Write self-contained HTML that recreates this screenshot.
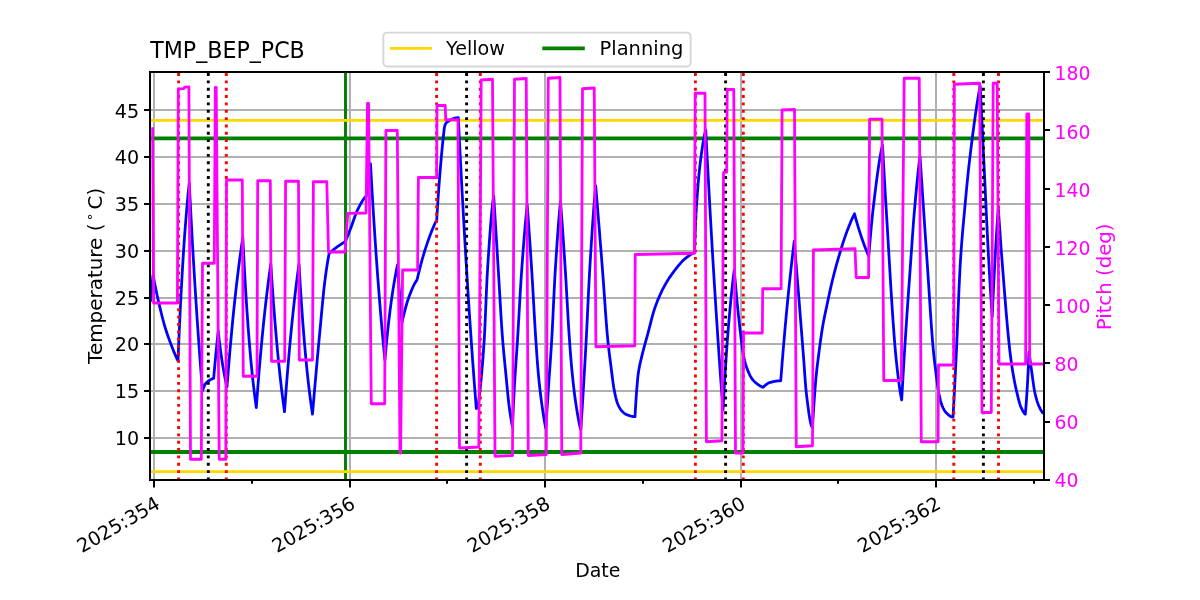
<!DOCTYPE html>
<html lang="en"><head><meta charset="utf-8"><title>TMP_BEP_PCB</title>
<style>html,body{margin:0;padding:0;background:#fff;overflow:hidden}body{width:1200px;height:600px}</style>
</head><body>
<svg width="1200" height="600" viewBox="0 0 1200 600" style="display:block;font-family:'DejaVu Sans','Liberation Sans',sans-serif">
<rect width="1200" height="600" fill="#fff"/>
<defs><clipPath id="c"><rect x="150.0" y="72.0" width="894.0" height="408.0"/></clipPath></defs>
<g stroke="#b0b0b0" stroke-width="2" fill="none">
<line x1="154.00" y1="72.0" x2="154.00" y2="480.0"/>
<line x1="350.00" y1="72.0" x2="350.00" y2="480.0"/>
<line x1="545.00" y1="72.0" x2="545.00" y2="480.0"/>
<line x1="741.00" y1="72.0" x2="741.00" y2="480.0"/>
<line x1="936.00" y1="72.0" x2="936.00" y2="480.0"/>
<line x1="150.0" y1="438.00" x2="1044.0" y2="438.00"/>
<line x1="150.0" y1="391.00" x2="1044.0" y2="391.00"/>
<line x1="150.0" y1="344.00" x2="1044.0" y2="344.00"/>
<line x1="150.0" y1="298.00" x2="1044.0" y2="298.00"/>
<line x1="150.0" y1="251.00" x2="1044.0" y2="251.00"/>
<line x1="150.0" y1="204.00" x2="1044.0" y2="204.00"/>
<line x1="150.0" y1="157.00" x2="1044.0" y2="157.00"/>
<line x1="150.0" y1="110.00" x2="1044.0" y2="110.00"/>
</g>
<g clip-path="url(#c)" fill="none" stroke-linejoin="round">
<line x1="345.5" x2="345.5" y1="72.0" y2="480.0" stroke="#008000" stroke-width="2.95"/>
<line x1="150.0" x2="1044.0" y1="120.4" y2="120.4" stroke="#ffd700" stroke-width="2.78"/>
<line x1="150.0" x2="1044.0" y1="471.7" y2="471.7" stroke="#ffd700" stroke-width="2.78"/>
<line x1="150.0" x2="1044.0" y1="138.3" y2="138.3" stroke="#008000" stroke-width="3.8"/>
<line x1="150.0" x2="1044.0" y1="452" y2="452" stroke="#008000" stroke-width="3.8"/>
<path d="M150.30,302.00 L150.57,299.30 L150.84,296.60 L151.11,293.90 L151.38,291.20 L151.65,288.50 L151.92,285.80 L152.19,283.10 L152.46,280.40 L152.73,277.70 L153.00,275.00 L153.50,277.58 L154.00,280.13 L154.50,282.65 L155.00,285.13 L155.50,287.57 L156.00,289.98 L156.50,292.35 L157.00,294.68 L157.50,296.97 L158.00,299.21 L158.50,301.42 L159.00,303.58 L159.50,305.72 L160.00,307.84 L160.50,309.93 L161.00,311.99 L161.50,314.03 L162.00,316.02 L162.50,317.98 L163.00,319.89 L163.50,321.75 L164.00,323.56 L164.50,325.31 L165.00,327.00 L165.50,328.64 L166.00,330.23 L166.50,331.78 L167.00,333.29 L167.50,334.76 L168.00,336.20 L168.50,337.62 L169.00,339.00 L169.50,340.37 L170.00,341.71 L170.50,343.04 L171.00,344.35 L171.50,345.65 L172.00,346.94 L172.50,348.21 L173.00,349.46 L173.50,350.70 L174.00,351.92 L174.50,353.12 L175.00,354.31 L175.50,355.47 L176.00,356.62 L176.50,357.75 L177.00,358.85 L177.50,359.94 L178.00,361.00 L179.12,334.20 L180.25,309.96 L181.38,288.02 L182.50,268.16 L183.62,250.20 L184.75,233.95 L185.88,219.24 L187.00,205.94 L188.12,193.89 L189.25,183.00 L190.57,208.76 L191.90,233.26 L193.22,256.56 L194.55,278.73 L195.88,299.82 L197.20,319.88 L198.53,338.96 L199.85,357.11 L201.18,374.38 L202.50,390.80 L203.01,389.33 L203.52,387.93 L204.03,386.63 L204.54,385.46 L205.05,384.44 L205.55,383.62 L206.06,383.00 L206.57,382.46 L207.08,381.99 L207.59,381.56 L208.10,381.18 L208.61,380.84 L209.12,380.52 L209.63,380.22 L210.14,379.92 L210.65,379.64 L211.15,379.37 L211.66,379.11 L212.17,378.88 L212.68,378.66 L213.19,378.47 L213.70,378.30 L214.16,372.93 L214.61,367.73 L215.06,362.68 L215.52,357.77 L215.97,353.01 L216.43,348.40 L216.88,343.91 L217.34,339.57 L217.79,335.35 L218.25,331.25 L219.12,339.03 L220.00,346.22 L220.88,352.85 L221.75,358.97 L222.62,364.63 L223.50,369.84 L224.38,374.66 L225.25,379.11 L226.12,383.21 L227.00,387.00 L228.58,366.92 L230.16,348.20 L231.74,330.75 L233.32,314.47 L234.90,299.30 L236.48,285.15 L238.06,271.96 L239.64,259.66 L241.22,248.19 L242.80,237.50 L244.15,264.04 L245.50,287.82 L246.85,309.12 L248.20,328.21 L249.55,345.30 L250.90,360.62 L252.25,374.34 L253.60,386.63 L254.95,397.64 L256.30,407.50 L257.75,388.23 L259.20,370.26 L260.65,353.51 L262.10,337.89 L263.55,323.32 L265.00,309.74 L266.45,297.08 L267.90,285.27 L269.35,274.26 L270.80,264.00 L272.17,284.62 L273.54,303.66 L274.91,321.23 L276.28,337.45 L277.65,352.43 L279.02,366.25 L280.39,379.01 L281.76,390.79 L283.13,401.66 L284.50,411.70 L285.95,391.86 L287.40,373.37 L288.85,356.13 L290.30,340.05 L291.75,325.06 L293.20,311.08 L294.65,298.05 L296.10,285.89 L297.55,274.56 L299.00,264.00 L300.35,286.61 L301.70,307.07 L303.05,325.58 L304.40,342.34 L305.75,357.49 L307.10,371.21 L308.45,383.62 L309.80,394.85 L311.15,405.01 L312.50,414.20 L313.01,408.17 L313.51,402.20 L314.02,396.28 L314.52,390.41 L315.03,384.59 L315.54,378.82 L316.04,373.10 L316.55,367.42 L317.05,361.80 L317.56,356.23 L318.07,350.70 L318.57,345.22 L319.08,339.78 L319.58,334.39 L320.09,329.04 L320.60,323.64 L321.10,318.18 L321.61,312.71 L322.12,307.29 L322.62,301.98 L323.13,296.82 L323.63,291.88 L324.14,287.20 L324.65,282.84 L325.15,278.84 L325.66,275.04 L326.16,271.38 L326.67,267.89 L327.18,264.57 L327.68,261.44 L328.19,258.51 L328.69,255.79 L329.20,253.30 L329.70,252.85 L330.21,252.41 L330.71,251.98 L331.21,251.55 L331.72,251.12 L332.22,250.70 L332.72,250.29 L333.23,249.88 L333.73,249.47 L334.23,249.08 L334.73,248.68 L335.24,248.30 L335.74,247.92 L336.24,247.55 L336.75,247.18 L337.25,246.82 L337.75,246.47 L338.26,246.12 L338.76,245.77 L339.26,245.43 L339.77,245.09 L340.27,244.75 L340.77,244.43 L341.27,244.10 L341.78,243.78 L342.28,243.47 L342.78,243.16 L343.29,242.86 L343.79,242.56 L344.29,242.27 L344.80,241.98 L345.30,241.70 L345.81,240.47 L346.32,239.23 L346.83,237.98 L347.34,236.72 L347.85,235.46 L348.37,234.18 L348.88,232.90 L349.39,231.61 L349.90,230.31 L350.41,229.00 L350.92,227.69 L351.43,226.32 L351.94,224.91 L352.45,223.45 L352.96,221.98 L353.48,220.49 L353.99,219.01 L354.50,217.54 L355.01,216.11 L355.52,214.72 L356.03,213.38 L356.54,212.12 L357.05,210.95 L357.56,209.87 L358.07,208.84 L358.59,207.83 L359.10,206.84 L359.61,205.87 L360.12,204.92 L360.63,204.00 L361.14,203.10 L361.65,202.23 L362.16,201.39 L362.67,200.58 L363.18,199.81 L363.70,199.07 L364.21,198.37 L364.72,197.72 L365.23,197.10 L365.74,196.53 L366.25,196.00 L366.68,192.48 L367.10,189.02 L367.52,185.64 L367.95,182.32 L368.38,179.07 L368.80,175.88 L369.23,172.76 L369.65,169.69 L370.07,166.69 L370.50,163.75 L371.94,189.05 L373.38,212.89 L374.82,235.33 L376.26,256.46 L377.70,276.37 L379.14,295.12 L380.58,312.77 L382.02,329.40 L383.46,345.05 L384.90,359.80 L386.16,346.05 L387.42,333.48 L388.68,322.00 L389.94,311.50 L391.20,301.91 L392.46,293.14 L393.72,285.13 L394.98,277.81 L396.24,271.12 L397.50,265.00 L397.95,271.56 L398.40,277.92 L398.85,284.09 L399.30,290.09 L399.75,295.90 L400.20,301.55 L400.65,307.02 L401.10,312.34 L401.55,317.49 L402.00,322.50 L402.50,320.31 L403.00,318.16 L403.50,316.04 L404.00,313.98 L404.50,311.96 L405.00,310.00 L405.50,308.10 L406.00,306.26 L406.50,304.50 L407.00,302.80 L407.50,301.18 L408.00,299.64 L408.50,298.19 L409.00,296.82 L409.50,295.48 L410.00,294.17 L410.50,292.88 L411.00,291.62 L411.50,290.40 L412.00,289.21 L412.50,288.07 L413.00,286.96 L413.50,285.90 L414.00,284.89 L414.50,283.93 L415.00,283.02 L415.50,282.17 L416.00,281.39 L416.50,280.66 L417.00,280.00 L417.51,277.87 L418.01,275.75 L418.52,273.66 L419.03,271.60 L419.53,269.56 L420.04,267.56 L420.54,265.58 L421.05,263.65 L421.56,261.75 L422.06,259.88 L422.57,258.07 L423.08,256.29 L423.58,254.56 L424.09,252.89 L424.60,251.26 L425.10,249.68 L425.61,248.14 L426.12,246.61 L426.62,245.09 L427.13,243.60 L427.63,242.12 L428.14,240.66 L428.65,239.23 L429.15,237.81 L429.66,236.42 L430.17,235.06 L430.67,233.72 L431.18,232.40 L431.69,231.11 L432.19,229.86 L432.70,228.63 L433.21,227.43 L433.71,226.26 L434.22,225.13 L434.72,224.03 L435.23,222.97 L435.74,221.94 L436.24,220.95 L436.75,220.00 L437.25,211.40 L437.76,203.19 L438.26,195.57 L438.76,188.52 L439.27,181.79 L439.77,175.36 L440.27,169.21 L440.78,163.32 L441.28,157.67 L441.78,152.21 L442.29,146.94 L442.79,141.87 L443.29,137.01 L443.80,132.39 L444.30,128.00 L444.80,125.82 L445.30,124.30 L445.80,123.40 L446.30,122.77 L446.80,122.38 L447.30,122.01 L447.80,121.66 L448.30,121.32 L448.80,120.99 L449.30,120.67 L449.80,120.37 L450.30,120.09 L450.80,119.81 L451.30,119.55 L451.80,119.31 L452.30,119.08 L452.80,118.87 L453.30,118.67 L453.80,118.49 L454.30,118.33 L454.80,118.19 L455.30,118.06 L455.80,117.95 L456.30,117.86 L456.80,117.79 L457.30,117.74 L457.80,117.71 L458.30,117.70 L460.10,153.74 L461.90,188.03 L463.70,220.65 L465.50,251.67 L467.30,281.18 L469.10,309.25 L470.90,335.96 L472.70,361.36 L474.50,385.52 L476.30,408.50 L476.81,408.39 L477.32,408.12 L477.84,407.28 L478.35,404.60 L478.86,400.59 L479.37,395.86 L479.88,391.05 L480.39,386.43 L480.91,381.49 L481.42,376.18 L481.93,370.47 L482.44,364.36 L482.95,357.83 L483.46,350.85 L483.98,343.40 L484.49,335.15 L485.00,324.89 L485.51,313.21 L486.02,300.97 L486.54,288.98 L487.05,278.08 L487.56,269.07 L488.07,261.11 L488.58,253.32 L489.09,245.76 L489.61,238.48 L490.12,231.52 L490.63,224.93 L491.14,218.75 L491.65,213.05 L492.16,207.85 L492.68,203.21 L493.19,199.18 L493.70,195.80 L494.21,203.98 L494.72,212.17 L495.22,220.36 L495.73,228.55 L496.24,236.74 L496.75,244.94 L497.26,253.15 L497.76,261.35 L498.27,269.56 L498.78,277.94 L499.29,286.61 L499.80,295.40 L500.31,304.16 L500.81,312.74 L501.32,321.00 L501.83,328.76 L502.34,335.89 L502.85,342.29 L503.35,348.19 L503.86,353.70 L504.37,358.94 L504.88,364.04 L505.39,369.11 L505.89,374.27 L506.40,379.60 L506.91,384.99 L507.42,390.33 L507.93,395.48 L508.44,400.32 L508.94,404.70 L509.45,408.56 L509.96,412.19 L510.47,415.62 L510.98,418.82 L511.48,421.75 L511.99,424.39 L512.50,426.70 L513.01,414.85 L513.51,403.61 L514.02,393.34 L514.53,384.26 L515.03,376.07 L515.54,368.49 L516.05,361.24 L516.56,354.07 L517.06,346.71 L517.57,338.90 L518.08,330.57 L518.58,321.88 L519.09,312.99 L519.60,304.06 L520.10,295.24 L520.61,286.70 L521.12,278.59 L521.62,271.07 L522.13,264.05 L522.64,257.18 L523.14,250.49 L523.65,243.99 L524.16,237.68 L524.67,231.59 L525.17,225.74 L525.68,220.14 L526.19,214.80 L526.69,209.75 L527.20,205.00 L527.70,211.66 L528.21,218.49 L528.71,225.48 L529.21,232.62 L529.71,239.90 L530.22,247.32 L530.72,254.88 L531.22,262.57 L531.72,270.38 L532.23,278.54 L532.73,287.13 L533.23,295.99 L533.74,304.96 L534.24,313.87 L534.74,322.57 L535.24,330.90 L535.75,338.69 L536.25,346.18 L536.75,353.50 L537.25,360.49 L537.76,367.00 L538.26,372.86 L538.76,378.14 L539.26,383.10 L539.77,387.75 L540.27,392.13 L540.77,396.25 L541.28,400.16 L541.78,403.87 L542.28,407.44 L542.78,410.90 L543.29,414.22 L543.79,417.40 L544.29,420.41 L544.79,423.24 L545.30,425.87 L545.80,428.30 L546.31,420.43 L546.81,412.60 L547.32,404.83 L547.83,397.13 L548.33,389.48 L548.84,382.06 L549.35,374.88 L549.86,367.76 L550.36,360.57 L550.87,353.13 L551.38,345.29 L551.88,336.86 L552.39,327.43 L552.90,317.23 L553.40,306.64 L553.91,296.04 L554.42,285.81 L554.92,276.32 L555.43,267.93 L555.94,260.02 L556.44,252.33 L556.95,244.87 L557.46,237.68 L557.97,230.78 L558.47,224.20 L558.98,217.98 L559.49,212.13 L559.99,206.70 L560.50,201.70 L561.01,208.26 L561.51,214.99 L562.02,221.89 L562.53,228.95 L563.04,236.16 L563.54,243.52 L564.05,251.02 L564.56,258.65 L565.07,266.41 L565.58,274.36 L566.08,282.86 L566.59,291.76 L567.10,300.84 L567.61,309.92 L568.11,318.76 L568.62,327.18 L569.13,334.95 L569.63,342.14 L570.14,349.05 L570.65,355.62 L571.16,361.80 L571.66,367.52 L572.17,372.77 L572.68,377.78 L573.19,382.55 L573.69,387.10 L574.20,391.40 L574.71,395.46 L575.22,399.26 L575.72,402.80 L576.23,406.14 L576.74,409.38 L577.25,412.51 L577.75,415.51 L578.26,418.38 L578.77,421.08 L579.28,423.61 L579.78,425.95 L580.29,428.09 L580.80,430.00 L581.31,422.01 L581.83,413.91 L582.34,405.68 L582.86,397.33 L583.37,388.86 L583.88,380.31 L584.40,371.69 L584.91,362.94 L585.42,353.99 L585.94,344.80 L586.45,335.24 L586.97,324.98 L587.48,314.23 L587.99,303.33 L588.51,292.59 L589.02,282.31 L589.53,272.83 L590.05,264.20 L590.56,255.78 L591.08,247.55 L591.59,239.54 L592.10,231.75 L592.62,224.22 L593.13,216.98 L593.64,210.04 L594.16,203.42 L594.67,197.16 L595.19,191.28 L595.70,185.80 L596.20,191.82 L596.71,197.89 L597.21,203.98 L597.72,210.12 L598.22,216.29 L598.72,222.49 L599.23,228.73 L599.73,235.00 L600.23,241.30 L600.74,247.63 L601.24,253.99 L601.75,260.38 L602.25,266.80 L602.75,273.30 L603.26,280.08 L603.76,287.09 L604.27,294.25 L604.77,301.44 L605.27,308.58 L605.78,315.56 L606.28,322.28 L606.78,328.65 L607.29,334.56 L607.79,339.92 L608.30,344.75 L608.80,349.19 L609.30,353.35 L609.81,357.33 L610.31,361.22 L610.82,365.12 L611.32,369.14 L611.82,373.22 L612.33,377.26 L612.83,381.14 L613.33,384.75 L613.84,387.98 L614.34,390.73 L614.85,393.25 L615.35,395.60 L615.85,397.77 L616.36,399.74 L616.86,401.47 L617.37,402.95 L617.87,404.20 L618.37,405.36 L618.88,406.42 L619.38,407.40 L619.88,408.28 L620.39,409.09 L620.89,409.81 L621.40,410.45 L621.90,411.02 L622.40,411.55 L622.91,412.05 L623.41,412.52 L623.92,412.96 L624.42,413.37 L624.92,413.74 L625.43,414.06 L625.93,414.35 L626.43,414.59 L626.94,414.79 L627.44,414.98 L627.95,415.17 L628.45,415.35 L628.95,415.52 L629.46,415.69 L629.96,415.85 L630.47,415.99 L630.97,416.13 L631.47,416.26 L631.98,416.37 L632.48,416.46 L632.98,416.55 L633.49,416.61 L633.99,416.66 L634.50,416.69 L635.00,416.70 L635.50,407.84 L636.00,399.76 L636.50,392.59 L637.00,386.30 L637.50,380.54 L638.00,375.65 L638.50,371.95 L639.00,368.90 L639.50,366.24 L640.00,363.87 L640.50,361.69 L641.00,359.62 L641.50,357.55 L642.00,355.43 L642.50,353.38 L643.00,351.40 L643.50,349.49 L644.00,347.62 L644.50,345.79 L645.00,343.99 L645.50,342.21 L646.00,340.43 L646.50,338.64 L647.00,336.83 L647.50,335.00 L648.00,333.12 L648.50,331.21 L649.00,329.26 L649.50,327.29 L650.00,325.32 L650.50,323.35 L651.00,321.39 L651.50,319.46 L652.00,317.56 L652.50,315.71 L653.00,313.91 L653.50,312.18 L654.00,310.53 L654.50,308.96 L655.00,307.50 L655.50,306.11 L656.00,304.75 L656.50,303.42 L657.00,302.13 L657.50,300.86 L658.00,299.63 L658.50,298.42 L659.00,297.25 L659.50,296.10 L660.00,294.97 L660.50,293.88 L661.00,292.80 L661.50,291.75 L662.00,290.73 L662.50,289.72 L663.00,288.74 L663.50,287.78 L664.00,286.83 L664.50,285.91 L665.00,285.00 L665.50,284.11 L666.00,283.24 L666.50,282.38 L667.00,281.55 L667.50,280.73 L668.00,279.92 L668.50,279.14 L669.00,278.36 L669.50,277.60 L670.00,276.86 L670.50,276.12 L671.00,275.40 L671.50,274.69 L672.00,274.00 L672.50,273.31 L673.00,272.63 L673.50,271.96 L674.00,271.30 L674.50,270.65 L675.00,270.00 L675.50,269.36 L676.00,268.72 L676.50,268.08 L677.00,267.45 L677.50,266.82 L678.00,266.20 L678.50,265.59 L679.00,264.98 L679.50,264.39 L680.00,263.80 L680.50,263.23 L681.00,262.67 L681.50,262.12 L682.00,261.59 L682.50,261.07 L683.00,260.57 L683.50,260.09 L684.00,259.62 L684.50,259.17 L685.00,258.75 L685.50,258.34 L686.00,257.93 L686.50,257.54 L687.00,257.15 L687.50,256.76 L688.00,256.39 L688.50,256.02 L689.00,255.67 L689.50,255.32 L690.00,254.99 L690.50,254.66 L691.00,254.35 L691.50,254.04 L692.00,253.75 L692.50,253.48 L693.00,253.21 L693.50,252.96 L694.00,252.72 L694.50,252.50 L695.01,238.33 L695.52,225.02 L696.03,213.81 L696.55,205.35 L697.06,197.82 L697.57,190.91 L698.08,184.56 L698.59,178.73 L699.10,173.37 L699.61,168.45 L700.12,163.90 L700.64,159.68 L701.15,155.76 L701.66,152.04 L702.17,148.46 L702.68,145.06 L703.19,141.86 L703.70,138.89 L704.22,136.19 L704.73,133.79 L705.24,131.71 L705.75,130.00 L707.48,163.30 L709.20,195.30 L710.92,226.04 L712.65,255.58 L714.38,283.95 L716.10,311.22 L717.83,337.41 L719.55,362.58 L721.27,386.77 L723.00,410.00 L724.12,389.69 L725.25,371.14 L726.38,354.18 L727.50,338.68 L728.62,324.51 L729.75,311.56 L730.88,299.73 L732.00,288.92 L733.12,279.03 L734.25,270.00 L735.09,279.92 L735.92,289.35 L736.75,298.32 L737.59,306.86 L738.42,314.97 L739.26,322.70 L740.10,330.04 L740.93,337.03 L741.76,343.68 L742.60,350.00 L743.11,353.03 L743.62,355.84 L744.13,358.37 L744.64,360.58 L745.15,362.55 L745.66,364.35 L746.17,365.98 L746.68,367.45 L747.19,368.82 L747.70,370.14 L748.21,371.42 L748.72,372.64 L749.23,373.79 L749.74,374.88 L750.25,375.89 L750.76,376.82 L751.27,377.66 L751.78,378.41 L752.29,379.10 L752.80,379.74 L753.31,380.34 L753.82,380.90 L754.33,381.43 L754.84,381.92 L755.35,382.39 L755.86,382.83 L756.37,383.24 L756.88,383.64 L757.39,384.02 L757.90,384.40 L758.41,384.77 L758.92,385.12 L759.43,385.46 L759.94,385.78 L760.45,386.09 L760.96,386.37 L761.47,386.64 L761.98,386.88 L762.49,387.10 L763.00,387.30 L763.51,386.85 L764.01,386.40 L764.52,385.96 L765.03,385.53 L765.54,385.11 L766.04,384.71 L766.55,384.32 L767.06,383.96 L767.56,383.63 L768.07,383.33 L768.58,383.06 L769.09,382.82 L769.59,382.63 L770.10,382.47 L770.61,382.34 L771.11,382.20 L771.62,382.07 L772.13,381.94 L772.64,381.82 L773.14,381.71 L773.65,381.59 L774.16,381.49 L774.66,381.39 L775.17,381.29 L775.68,381.20 L776.19,381.12 L776.69,381.05 L777.20,380.98 L777.71,380.92 L778.21,380.87 L778.72,380.83 L779.23,380.79 L779.74,380.77 L780.24,380.76 L780.75,380.75 L782.10,363.46 L783.45,347.01 L784.80,331.37 L786.15,316.48 L787.50,302.33 L788.85,288.86 L790.20,276.05 L791.55,263.87 L792.90,252.28 L794.25,241.25 L794.76,247.40 L795.26,253.57 L795.77,259.78 L796.28,266.00 L796.78,272.25 L797.29,278.52 L797.80,284.81 L798.31,291.13 L798.81,297.46 L799.32,303.81 L799.83,310.18 L800.33,316.57 L800.84,322.97 L801.35,329.39 L801.85,335.83 L802.36,342.27 L802.87,348.73 L803.38,355.21 L803.88,361.72 L804.39,368.80 L804.90,376.16 L805.40,383.19 L805.91,389.26 L806.42,393.88 L806.92,398.06 L807.43,402.16 L807.94,406.14 L808.44,409.93 L808.95,413.48 L809.46,416.75 L809.97,419.69 L810.47,422.24 L810.98,424.34 L811.49,425.96 L811.99,427.03 L812.50,427.50 L813.00,418.90 L813.50,410.79 L814.00,403.18 L814.50,396.06 L815.00,389.43 L815.50,383.30 L816.00,377.64 L816.50,372.51 L817.00,368.02 L817.50,363.94 L818.00,360.00 L818.50,356.04 L819.00,352.12 L819.50,348.26 L820.00,344.47 L820.50,340.79 L821.00,337.23 L821.50,333.82 L822.00,330.56 L822.50,327.50 L823.00,324.61 L823.50,321.86 L824.00,319.24 L824.50,316.71 L825.00,314.26 L825.50,311.87 L826.00,309.51 L826.50,307.18 L827.00,304.85 L827.50,302.50 L828.00,300.13 L828.50,297.78 L829.00,295.44 L829.50,293.12 L830.00,290.83 L830.50,288.58 L831.00,286.36 L831.50,284.19 L832.00,282.06 L832.50,280.00 L833.00,277.98 L833.50,275.99 L834.00,274.03 L834.50,272.09 L835.00,270.18 L835.50,268.30 L836.00,266.45 L836.50,264.62 L837.00,262.81 L837.50,261.04 L838.00,259.28 L838.50,257.55 L839.00,255.84 L839.50,254.16 L840.00,252.50 L840.50,250.86 L841.00,249.23 L841.50,247.62 L842.00,246.03 L842.50,244.45 L843.00,242.90 L843.50,241.36 L844.00,239.85 L844.50,238.37 L845.00,236.90 L845.50,235.47 L846.00,234.06 L846.50,232.68 L847.00,231.32 L847.50,230.00 L848.00,228.70 L848.50,227.42 L849.00,226.16 L849.50,224.93 L850.00,223.71 L850.50,222.51 L851.00,221.33 L851.50,220.18 L852.00,219.05 L852.50,217.94 L853.00,216.85 L853.50,215.79 L854.00,214.76 L854.50,213.75 L855.92,219.02 L857.35,224.03 L858.77,228.80 L860.20,233.33 L861.62,237.64 L863.05,241.75 L864.48,245.65 L865.90,249.36 L867.33,252.89 L868.75,256.25 L869.26,250.10 L869.77,244.02 L870.28,238.06 L870.79,232.26 L871.30,226.67 L871.81,221.32 L872.31,216.27 L872.82,211.55 L873.33,207.13 L873.84,202.78 L874.35,198.49 L874.86,194.27 L875.37,190.13 L875.88,186.07 L876.39,182.10 L876.90,178.24 L877.41,174.49 L877.92,170.86 L878.43,167.36 L878.94,163.99 L879.44,160.77 L879.95,157.71 L880.46,154.81 L880.97,152.08 L881.48,149.53 L881.99,147.16 L882.50,145.00 L883.01,154.06 L883.51,163.07 L884.02,172.01 L884.52,180.84 L885.03,189.56 L885.53,198.12 L886.04,206.52 L886.54,214.77 L887.05,223.13 L887.55,231.59 L888.06,240.11 L888.56,248.67 L889.07,257.23 L889.57,265.75 L890.08,274.22 L890.58,282.58 L891.09,290.82 L891.59,298.90 L892.10,306.78 L892.61,314.44 L893.11,321.84 L893.62,328.94 L894.12,335.72 L894.63,342.15 L895.13,348.18 L895.64,353.80 L896.14,358.96 L896.65,363.74 L897.15,368.34 L897.66,372.76 L898.16,376.99 L898.67,381.01 L899.17,384.80 L899.68,388.36 L900.18,391.68 L900.69,394.73 L901.19,397.51 L901.70,400.00 L902.21,390.84 L902.72,381.80 L903.23,372.94 L903.73,364.36 L904.24,356.11 L904.75,348.06 L905.26,340.15 L905.77,332.38 L906.28,324.74 L906.78,317.20 L907.29,309.76 L907.80,302.41 L908.31,295.12 L908.82,287.89 L909.33,280.71 L909.83,273.56 L910.34,266.43 L910.85,259.30 L911.36,252.10 L911.87,244.86 L912.38,237.66 L912.88,230.59 L913.39,223.74 L913.90,217.20 L914.41,211.06 L914.92,205.26 L915.42,199.59 L915.93,194.05 L916.44,188.66 L916.95,183.43 L917.46,178.38 L917.97,173.51 L918.48,168.86 L918.98,164.42 L919.49,160.21 L920.00,156.25 L920.50,163.76 L921.00,171.26 L921.50,178.75 L922.00,186.21 L922.50,193.66 L923.00,201.10 L923.50,208.52 L924.00,215.93 L924.50,223.33 L925.00,230.73 L925.50,238.10 L926.00,245.44 L926.50,252.75 L927.00,260.00 L927.50,267.34 L928.00,274.87 L928.50,282.53 L929.00,290.25 L929.50,297.97 L930.00,305.62 L930.50,313.14 L931.00,320.47 L931.50,327.54 L932.00,334.30 L932.50,340.67 L933.00,346.59 L933.50,352.00 L934.00,356.88 L934.50,361.33 L935.00,365.46 L935.50,369.39 L936.00,373.24 L936.50,377.11 L937.00,380.93 L937.50,384.63 L938.00,388.10 L938.50,391.26 L939.00,394.03 L939.50,396.37 L940.00,398.55 L940.50,400.56 L941.00,402.39 L941.50,404.04 L942.00,405.48 L942.50,406.70 L943.00,407.77 L943.50,408.76 L944.00,409.68 L944.50,410.52 L945.00,411.29 L945.50,411.97 L946.00,412.58 L946.50,413.11 L947.00,413.57 L947.50,414.03 L948.00,414.47 L948.50,414.90 L949.00,415.30 L949.50,415.68 L950.00,416.03 L950.50,416.35 L951.00,416.62 L951.50,416.85 L952.00,417.02 L952.50,417.14 L953.00,417.20 L953.50,408.13 L954.01,398.86 L954.51,389.37 L955.01,379.66 L955.52,369.72 L956.02,359.55 L956.53,348.70 L957.03,337.03 L957.53,324.87 L958.04,312.53 L958.54,300.32 L959.04,288.56 L959.55,277.57 L960.05,267.65 L960.56,259.13 L961.06,251.65 L961.56,244.77 L962.07,238.38 L962.57,232.38 L963.07,226.66 L963.58,221.13 L964.08,215.66 L964.59,210.16 L965.09,204.63 L965.59,199.17 L966.10,193.78 L966.60,188.49 L967.10,183.32 L967.61,178.28 L968.11,173.40 L968.61,168.68 L969.12,164.14 L969.62,159.81 L970.13,155.60 L970.63,151.44 L971.13,147.31 L971.64,143.24 L972.14,139.23 L972.64,135.27 L973.15,131.38 L973.65,127.56 L974.16,123.80 L974.66,120.13 L975.16,116.53 L975.67,113.03 L976.17,109.61 L976.67,106.28 L977.18,103.06 L977.68,99.93 L978.19,96.91 L978.69,94.01 L979.19,91.22 L979.70,88.55 L980.20,86.00 L980.70,96.31 L981.20,106.60 L981.70,116.89 L982.20,127.17 L982.70,137.44 L983.20,147.70 L983.70,157.95 L984.20,168.26 L984.70,178.75 L985.20,189.33 L985.70,199.94 L986.20,210.50 L986.70,220.94 L987.20,231.19 L987.70,241.16 L988.20,250.79 L988.70,260.00 L989.20,268.85 L989.70,277.45 L990.20,285.80 L990.70,293.90 L991.20,301.75 L991.70,309.35 L992.20,316.70 L992.71,305.50 L993.22,294.65 L993.73,284.20 L994.23,274.18 L994.74,264.65 L995.25,255.60 L995.76,246.86 L996.27,238.42 L996.77,230.32 L997.28,222.57 L997.79,215.23 L998.30,208.30 L998.80,215.65 L999.30,222.93 L999.80,230.11 L1000.30,237.17 L1000.80,244.10 L1001.30,250.86 L1001.80,257.43 L1002.30,263.84 L1002.80,270.25 L1003.30,276.66 L1003.80,283.05 L1004.30,289.39 L1004.80,295.68 L1005.30,301.88 L1005.80,307.97 L1006.30,313.94 L1006.80,319.75 L1007.30,325.40 L1007.80,330.85 L1008.30,336.09 L1008.80,341.09 L1009.30,345.83 L1009.80,350.30 L1010.30,354.47 L1010.80,358.41 L1011.30,362.11 L1011.80,365.61 L1012.30,368.92 L1012.80,372.04 L1013.30,375.00 L1013.80,377.81 L1014.30,380.48 L1014.80,383.03 L1015.30,385.45 L1015.80,387.77 L1016.30,389.99 L1016.80,392.12 L1017.30,394.24 L1017.80,396.34 L1018.30,398.40 L1018.80,400.37 L1019.30,402.22 L1019.80,403.92 L1020.30,405.42 L1020.80,406.70 L1021.30,407.84 L1021.80,408.93 L1022.30,409.97 L1022.80,410.94 L1023.30,411.82 L1023.80,412.61 L1024.30,413.27 L1024.80,413.81 L1025.30,414.20 L1025.83,408.30 L1026.36,401.29 L1026.89,393.37 L1027.41,384.75 L1027.94,375.16 L1028.47,364.11 L1029.00,352.00 L1029.50,355.79 L1030.00,359.52 L1030.50,363.19 L1031.00,366.79 L1031.50,370.31 L1032.00,373.81 L1032.50,377.43 L1033.00,381.07 L1033.50,384.60 L1034.00,387.90 L1034.50,390.84 L1035.00,393.30 L1035.50,395.40 L1036.00,397.36 L1036.50,399.17 L1037.00,400.85 L1037.50,402.40 L1038.00,403.81 L1038.50,405.10 L1039.00,406.27 L1039.50,407.33 L1040.00,408.35 L1040.50,409.32 L1041.00,410.23 L1041.50,411.07 L1042.00,411.83 L1042.50,412.49 L1043.00,413.05 L1043.50,413.50" stroke="#0000ff" stroke-width="2.78"/>
<line x1="178.6" x2="178.6" y1="480.0" y2="72.0" stroke="#ff0000" stroke-width="2.9" stroke-dasharray="2.9 4.454" stroke-dashoffset="0.4"/>
<line x1="226.3" x2="226.3" y1="480.0" y2="72.0" stroke="#ff0000" stroke-width="2.9" stroke-dasharray="2.9 4.454" stroke-dashoffset="0.4"/>
<line x1="436.6" x2="436.6" y1="480.0" y2="72.0" stroke="#ff0000" stroke-width="2.9" stroke-dasharray="2.9 4.454" stroke-dashoffset="0.4"/>
<line x1="480.3" x2="480.3" y1="480.0" y2="72.0" stroke="#ff0000" stroke-width="2.9" stroke-dasharray="2.9 4.454" stroke-dashoffset="0.4"/>
<line x1="695.4" x2="695.4" y1="480.0" y2="72.0" stroke="#ff0000" stroke-width="2.9" stroke-dasharray="2.9 4.454" stroke-dashoffset="0.4"/>
<line x1="743.3" x2="743.3" y1="480.0" y2="72.0" stroke="#ff0000" stroke-width="2.9" stroke-dasharray="2.9 4.454" stroke-dashoffset="0.4"/>
<line x1="953.8" x2="953.8" y1="480.0" y2="72.0" stroke="#ff0000" stroke-width="2.9" stroke-dasharray="2.9 4.454" stroke-dashoffset="0.4"/>
<line x1="998.5" x2="998.5" y1="480.0" y2="72.0" stroke="#ff0000" stroke-width="2.9" stroke-dasharray="2.9 4.454" stroke-dashoffset="0.4"/>
<line x1="208.3" x2="208.3" y1="480.0" y2="72.0" stroke="#000" stroke-width="2.9" stroke-dasharray="2.9 4.454" stroke-dashoffset="0.4"/>
<line x1="466.6" x2="466.6" y1="480.0" y2="72.0" stroke="#000" stroke-width="2.9" stroke-dasharray="2.9 4.454" stroke-dashoffset="0.4"/>
<line x1="725.6" x2="725.6" y1="480.0" y2="72.0" stroke="#000" stroke-width="2.9" stroke-dasharray="2.9 4.454" stroke-dashoffset="0.4"/>
<line x1="983.4" x2="983.4" y1="480.0" y2="72.0" stroke="#000" stroke-width="2.9" stroke-dasharray="2.9 4.454" stroke-dashoffset="0.4"/>
<path d="M152.60,127.20 L153.60,303.00 L177.40,303.00 L178.30,88.80 L183.80,88.70 L184.60,87.10 L188.90,87.00 L190.50,459.25 L201.30,459.25 L202.50,263.25 L214.25,263.25 L215.30,87.30 L216.20,87.30 L219.20,459.25 L225.80,459.25 L226.50,180.00 L242.30,180.00 L243.25,376.25 L257.00,376.25 L257.70,180.75 L270.30,180.75 L271.50,361.25 L284.70,361.25 L285.60,181.25 L298.50,181.25 L299.30,360.00 L312.50,360.00 L313.40,181.75 L326.80,181.75 L328.50,252.00 L345.00,252.00 L347.80,213.30 L366.00,213.00 L367.50,103.50 L368.60,103.50 L371.25,403.75 L384.70,403.75 L385.90,130.50 L397.30,130.50 L400.00,453.00 L400.60,453.00 L402.60,270.00 L417.60,270.00 L418.40,177.50 L436.60,177.50 L437.00,105.50 L445.25,105.50 L445.70,119.75 L458.00,119.75 L459.50,448.00 L478.80,447.00 L481.20,80.00 L492.50,79.25 L495.00,456.25 L512.50,455.50 L514.50,79.25 L526.25,78.50 L528.25,455.50 L546.25,454.50 L548.25,78.25 L560.00,77.50 L561.75,454.50 L580.75,453.00 L582.50,88.75 L594.25,88.00 L595.90,346.75 L634.80,345.75 L635.20,254.50 L694.40,253.25 L695.20,93.25 L705.00,93.25 L706.40,441.75 L721.90,440.75 L723.50,172.50 L726.70,172.20 L727.20,89.50 L733.75,89.50 L735.50,453.00 L743.00,453.00 L743.50,333.00 L762.30,333.00 L762.70,288.75 L781.10,288.75 L782.10,110.00 L794.50,109.50 L796.25,446.75 L812.50,445.75 L813.40,250.00 L855.00,248.75 L856.20,277.50 L868.60,277.50 L869.60,119.25 L882.00,119.25 L883.75,380.50 L901.25,380.50 L904.20,78.25 L919.25,78.25 L921.25,441.75 L938.10,441.75 L938.50,365.00 L953.60,365.00 L954.30,84.25 L979.60,83.25 L982.00,412.50 L991.30,412.50 L993.20,83.25 L997.20,83.25 L999.00,364.00 L1025.60,364.00 L1026.80,114.00 L1028.80,114.00 L1029.70,364.00 L1044.00,364.00" stroke="#ff00ff" stroke-width="2.78"/>
</g>
<rect x="150.0" y="72.0" width="894.0" height="408.0" fill="none" stroke="#000" stroke-width="2"/>
<g stroke="#000" stroke-width="2">
<line x1="154.00" x2="154.00" y1="480.0" y2="487.6"/>
<line x1="350.00" x2="350.00" y1="480.0" y2="487.6"/>
<line x1="545.00" x2="545.00" y1="480.0" y2="487.6"/>
<line x1="741.00" x2="741.00" y1="480.0" y2="487.6"/>
<line x1="936.00" x2="936.00" y1="480.0" y2="487.6"/>
<line x1="252.00" x2="252.00" y1="480.0" y2="483.8"/>
<line x1="447.00" x2="447.00" y1="480.0" y2="483.8"/>
<line x1="643.00" x2="643.00" y1="480.0" y2="483.8"/>
<line x1="838.00" x2="838.00" y1="480.0" y2="483.8"/>
<line x1="1034.00" x2="1034.00" y1="480.0" y2="483.8"/>
<line x1="144.0" x2="150.0" y1="438.00" y2="438.00"/>
<line x1="144.0" x2="150.0" y1="391.00" y2="391.00"/>
<line x1="144.0" x2="150.0" y1="344.00" y2="344.00"/>
<line x1="144.0" x2="150.0" y1="298.00" y2="298.00"/>
<line x1="144.0" x2="150.0" y1="251.00" y2="251.00"/>
<line x1="144.0" x2="150.0" y1="204.00" y2="204.00"/>
<line x1="144.0" x2="150.0" y1="157.00" y2="157.00"/>
<line x1="144.0" x2="150.0" y1="110.00" y2="110.00"/>
<line x1="1044.0" x2="1050.0" y1="480.00" y2="480.00"/>
<line x1="1044.0" x2="1050.0" y1="422.00" y2="422.00"/>
<line x1="1044.0" x2="1050.0" y1="363.00" y2="363.00"/>
<line x1="1044.0" x2="1050.0" y1="305.00" y2="305.00"/>
<line x1="1044.0" x2="1050.0" y1="247.00" y2="247.00"/>
<line x1="1044.0" x2="1050.0" y1="189.00" y2="189.00"/>
<line x1="1044.0" x2="1050.0" y1="130.00" y2="130.00"/>
<line x1="1044.0" x2="1050.0" y1="72.00" y2="72.00"/>
</g>
<g fill="#000">
<text transform="translate(139.20,444.63) scale(0.997,1)" font-size="19.2" text-anchor="end">10</text>
<text transform="translate(139.20,397.94) scale(0.997,1)" font-size="19.2" text-anchor="end">15</text>
<text transform="translate(139.20,351.25) scale(0.997,1)" font-size="19.2" text-anchor="end">20</text>
<text transform="translate(139.20,304.56) scale(0.997,1)" font-size="19.2" text-anchor="end">25</text>
<text transform="translate(139.20,257.87) scale(0.997,1)" font-size="19.2" text-anchor="end">30</text>
<text transform="translate(139.20,211.18) scale(0.997,1)" font-size="19.2" text-anchor="end">35</text>
<text transform="translate(139.20,164.49) scale(0.997,1)" font-size="19.2" text-anchor="end">40</text>
<text transform="translate(139.20,117.80) scale(0.997,1)" font-size="19.2" text-anchor="end">45</text>
<text transform="translate(161.30,507.50) rotate(-30) scale(0.997,1)" font-size="19.2" text-anchor="end">2025:354</text>
<text transform="translate(356.47,507.50) rotate(-30) scale(0.997,1)" font-size="19.2" text-anchor="end">2025:356</text>
<text transform="translate(551.64,507.50) rotate(-30) scale(0.997,1)" font-size="19.2" text-anchor="end">2025:358</text>
<text transform="translate(746.81,507.50) rotate(-30) scale(0.997,1)" font-size="19.2" text-anchor="end">2025:360</text>
<text transform="translate(941.98,507.50) rotate(-30) scale(0.997,1)" font-size="19.2" text-anchor="end">2025:362</text>
<text transform="translate(597.80,576.80) scale(0.987,1)" font-size="19.2" text-anchor="middle">Date</text>
<text transform="translate(101.8,363.89) rotate(-90) scale(1.039,1)" font-size="19.2">Temperature (<tspan font-size="13.4" dx="2.21" dy="-8.1">∘</tspan><tspan dx="2.97" dy="8.1">C)</tspan></text>
</g>
<g fill="#ff00ff">
<text transform="translate(1054.40,486.62) scale(0.982,1)" font-size="19.2">40</text>
<text transform="translate(1054.40,428.60) scale(0.982,1)" font-size="19.2">60</text>
<text transform="translate(1054.40,370.58) scale(0.982,1)" font-size="19.2">80</text>
<text transform="translate(1054.40,312.56) scale(0.982,1)" font-size="19.2">100</text>
<text transform="translate(1054.40,254.54) scale(0.982,1)" font-size="19.2">120</text>
<text transform="translate(1054.40,196.52) scale(0.982,1)" font-size="19.2">140</text>
<text transform="translate(1054.40,138.50) scale(0.982,1)" font-size="19.2">160</text>
<text transform="translate(1054.40,80.48) scale(0.982,1)" font-size="19.2">180</text>
<text transform="translate(1111.00,276.90) rotate(-90) scale(1.027,1)" font-size="19.2" text-anchor="middle">Pitch (deg)</text>
</g>
<text transform="translate(150.20,57.50) scale(0.963,1)" font-size="23.0" fill="#000">TMP_BEP_PCB</text>
<rect x="383.4" y="32.6" width="307.2" height="33.9" rx="3.7" ry="3.7" fill="#fff" fill-opacity="0.8" stroke="#ccc" stroke-opacity="0.8" stroke-width="1.85"/>
<line x1="389.9" x2="431.9" y1="48.4" y2="48.4" stroke="#ffd700" stroke-width="2.78"/>
<text transform="translate(446.00,54.70) scale(0.997,1)" font-size="19.2" fill="#000">Yellow</text>
<line x1="542.3" x2="584.8" y1="48.4" y2="48.4" stroke="#008000" stroke-width="3.8"/>
<text transform="translate(599.50,54.70) scale(1.014,1)" font-size="19.2" fill="#000">Planning</text>
</svg>
</body></html>
